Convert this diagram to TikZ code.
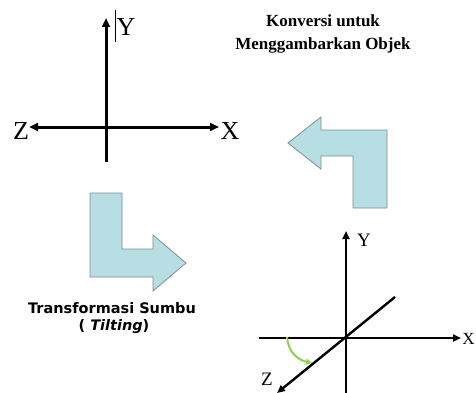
\documentclass[tikz,border=0pt]{standalone}
\usepackage{fontspec}
\setmainfont{Liberation Serif}
\newfontfamily\verd{DejaVu Sans}
\usetikzlibrary{arrows.meta}
\definecolor{arrfill}{HTML}{B7DEE3}
\definecolor{arrdraw}{HTML}{7F8C8D}
\definecolor{tiltgreen}{HTML}{92D050}
\tikzset{
  axisbig/.style={line width=3pt,-{Triangle[length=9pt,width=8pt]}},
  axissmall/.style={line width=2.4pt,-{Triangle[length=8pt,width=7pt]}},
  bigarrow/.style={fill=arrfill,draw=arrdraw,line width=0.8pt,line join=miter},
  labbig/.style={inner sep=0pt,font=\fontsize{26}{28}\selectfont},
  labsmall/.style={inner sep=0pt,font=\fontsize{19}{21}\selectfont},
  titletxt/.style={inner sep=0pt,anchor=base,font=\fontsize{17}{20}\selectfont\bfseries},
  captxt/.style={inner sep=0pt,anchor=base,font=\verd\fontsize{14.5}{17}\selectfont\bfseries},
}
\begin{document}
\begin{tikzpicture}[x=1pt,y=-1pt]
\useasboundingbox (0,0) rectangle (476,393);
% title
\node[titletxt] (t1) at (323,27) {Konversi untuk};
\node[titletxt] (t2) at (323,50) {Menggambarkan Objek};
% top-left axes
\coordinate (ytop) at (106,18);
\coordinate (ybot) at (106,162);
\coordinate (zl) at (29,127);
\coordinate (xr) at (219,127);
\coordinate (o1) at (106,127);
\draw[line width=3pt] (o1) -- (ybot);
\draw[axisbig] (o1) -- (ytop);
\draw[axisbig] (o1) -- (zl);
\draw[axisbig] (o1) -- (xr);
\coordinate (cur1) at (115,10);
\coordinate (cur2) at (115,42);
\draw[line width=0.8pt] (cur1) -- (cur2);
\node[labbig] (ly1) at (126,27) {Y};
\node[labbig] (lz1) at (21,131) {Z};
\node[labbig] (lx1) at (230,131) {X};
% top-right block arrow (turn left)
\draw[bigarrow] (288,143) -- (321,117) -- (321,130) -- (387,130) -- (387,208)
  -- (353,208) -- (353,156) -- (321,156) -- (321,169) -- cycle;
% bottom-left block arrow (turn right)
\draw[bigarrow] (90,193) -- (122,193) -- (122,249) -- (153,249) -- (153,235)
  -- (186,263) -- (153,291) -- (153,277) -- (90,277) -- cycle;
\node[captxt] (c1) at (112,313) {Transformasi Sumbu};
\node[captxt] (c2) at (114,330) {( \textit{Tilting})};
% bottom-right axes
\coordinate (o2) at (346,338);
\coordinate (y2top) at (346,231);
\coordinate (y2bot) at (346,394);
\coordinate (x2l) at (259,338);
\coordinate (x2r) at (461,338);
\coordinate (z2a) at (395,297);
\coordinate (z2b) at (277,393);
\draw[line width=2.4pt] (x2l) -- (o2);
\draw[axissmall] (o2) -- (x2r);
\draw[axissmall] (y2bot) -- (y2top);
\draw[axissmall] (z2a) -- (z2b);
\node[labsmall] (ly2) at (364,240) {Y};
\node[labsmall] (lz2) at (267,379) {Z};
\node[labsmall,font=\fontsize{17}{19}\selectfont] (lx2) at (468.5,339) {X};
% green tilt arrow
\coordinate (g1) at (287,337);
\coordinate (g2) at (312,363);
\draw[tiltgreen,line width=2pt,-{Triangle[length=6pt,width=6pt]}] (g1) .. controls (288,352) and (298,360) .. (g2);
\end{tikzpicture}
\end{document}
